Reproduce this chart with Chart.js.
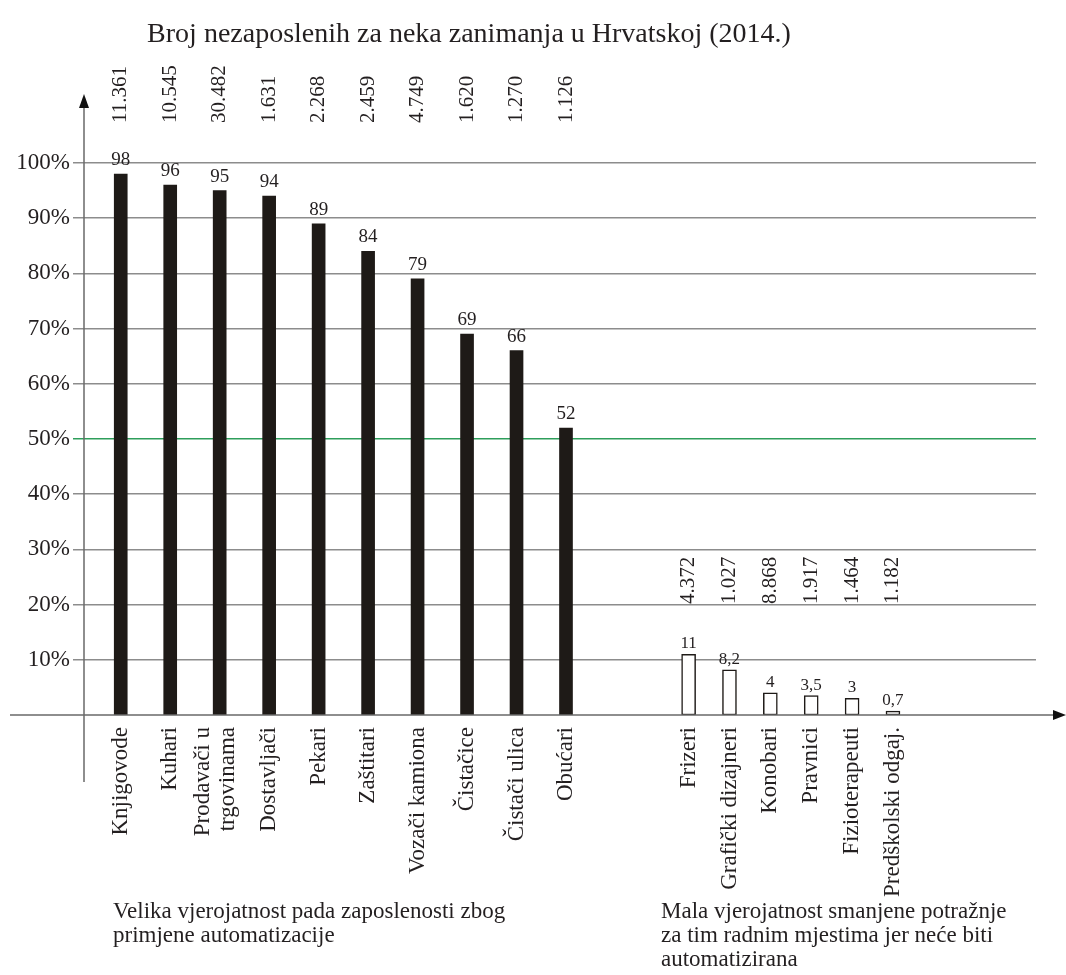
<!DOCTYPE html>
<html>
<head>
<meta charset="utf-8">
<script src="https://cdn.jsdelivr.net/npm/chart.js@4.4.1/dist/chart.umd.min.js"></script>
<style>
  html, body { margin: 0; padding: 0; background: #fff; }
  #wrap { width: 1066px; height: 975px; }
</style>
</head>
<body>
<div id="wrap"><canvas id="chart"></canvas></div>
<script>
// High probability of automation
const highJobs = ["Knjigovode", "Kuhari", ["Prodavači u", "trgovinama"], "Dostavljači", "Pekari",
    "Zaštitari", "Vozači kamiona", "Čistačice", "Čistači ulica", "Obućari"];
const highProb = [98, 96, 95, 94, 89, 84, 79, 69, 66, 52];
const highCounts = ["11.361", "10.545", "30.482", "1.631", "2.268", "2.459", "4.749", "1.620", "1.270", "1.126"];

// Low probability of automation
const lowJobs = ["Frizeri", "Grafički dizajneri", "Konobari", "Pravnici", "Fizioterapeuti", "Predškolski odgaj."];
const lowProb = [11, 8.2, 4, 3.5, 3, 0.7];
const lowCounts = ["4.372", "1.027", "8.868", "1.917", "1.464", "1.182"];

const yTicks = [10, 20, 30, 40, 50, 60, 70, 80, 90, 100];

const titleText = "Broj nezaposlenih za neka zanimanja u Hrvatskoj (2014.)";
const highNote = ["Velika vjerojatnost pada zaposlenosti zbog", "primjene automatizacije"];
const lowNote = ["Mala vjerojatnost smanjene potražnje", "za tim radnim mjestima jer neće biti", "automatizirana"];

// slots on each category axis (empty ones are just spacing)
const highSlots = 19;
const lowSlots = 23;
const lowStart = 14;

const SERIF = '"Liberation Serif", "DejaVu Serif", serif';
const INK = "#231f20";

const highLabels = highJobs.concat(Array(highSlots - highJobs.length).fill(""));
const lowLabels = Array(lowStart).fill("").concat(lowJobs, Array(lowSlots - lowStart - lowJobs.length).fill(""));
const lowData = Array(lowStart).fill(null).concat(lowProb);

const fmt = v => String(v).replace(".", ",");

function rotText(ctx, text, x, y, align) {
    ctx.save();
    ctx.translate(x, y);
    ctx.rotate(-Math.PI / 2);
    ctx.textAlign = align;
    ctx.textBaseline = "middle";
    ctx.fillText(text, 0, 0);
    ctx.restore();
}

const decor = {
    id: "decor",
    afterDraw(chart) {
        const { ctx, chartArea, scales } = chart;
        const y0 = scales.y.getPixelForValue(0);
        const ax = chartArea.left - 12;

        ctx.save();
        // axes with arrows
        ctx.strokeStyle = "#6a6a6a";
        ctx.lineWidth = 1.5;
        ctx.beginPath();
        ctx.moveTo(10, y0);
        ctx.lineTo(1056, y0);
        ctx.moveTo(ax, chartArea.top - 56);
        ctx.lineTo(ax, y0 + 67);
        ctx.stroke();
        ctx.fillStyle = "#111";
        ctx.beginPath();
        ctx.moveTo(1066, y0);
        ctx.lineTo(1053, y0 - 5);
        ctx.lineTo(1053, y0 + 5);
        ctx.closePath();
        ctx.fill();
        ctx.beginPath();
        ctx.moveTo(ax, chartArea.top - 69);
        ctx.lineTo(ax - 5, chartArea.top - 55);
        ctx.lineTo(ax + 5, chartArea.top - 55);
        ctx.closePath();
        ctx.fill();

        ctx.fillStyle = INK;

        // title
        ctx.font = "28px " + SERIF;
        ctx.textAlign = "center";
        ctx.textBaseline = "alphabetic";
        ctx.fillText(titleText, 469, 42);

        // values on top of bars
        const hi = chart.getDatasetMeta(0).data;
        const lo = chart.getDatasetMeta(1).data;
        ctx.font = "19px " + SERIF;
        hi.forEach((bar, i) => ctx.fillText(fmt(highProb[i]), bar.x, bar.y - 9));
        ctx.font = "17px " + SERIF;
        lowProb.forEach((v, i) => {
            const bar = lo[lowStart + i];
            ctx.fillText(fmt(v), bar.x, bar.y - 6);
        });

        // unemployed counts
        ctx.font = "21px " + SERIF;
        hi.forEach((bar, i) => rotText(ctx, highCounts[i], bar.x, chartArea.top - 40, "left"));
        lowCounts.forEach((c, i) => rotText(ctx, c, lo[lowStart + i].x, 604, "left"));

        // category labels
        ctx.font = "23px " + SERIF;
        const drawCat = (label, x) => {
            const lines = Array.isArray(label) ? label : [label];
            lines.forEach((t, j) => {
                const dx = (j - (lines.length - 1) / 2) * 25 - (lines.length > 1 ? 4 : 0);
                rotText(ctx, t, x + dx, y0 + 12, "right");
            });
        };
        hi.forEach((bar, i) => drawCat(highJobs[i], bar.x));
        lowJobs.forEach((t, i) => drawCat(t, lo[lowStart + i].x));

        // notes under the groups
        ctx.font = "23px " + SERIF;
        ctx.textAlign = "left";
        ctx.textBaseline = "alphabetic";
        highNote.forEach((t, i) => ctx.fillText(t, 113, 918 + i * 24));
        lowNote.forEach((t, i) => ctx.fillText(t, 661, 918 + i * 24));
        ctx.restore();
    }
};

new Chart(document.getElementById("chart"), {
    type: "bar",
    data: {
        datasets: [{
            data: highProb,
            xAxisID: "x",
            yAxisID: "y",
            backgroundColor: "#1e1a17",
            barThickness: 13,
            grouped: false
        }, {
            data: lowData,
            xAxisID: "x2",
            yAxisID: "y",
            backgroundColor: "#ffffff",
            borderColor: "#1e1a17",
            borderWidth: 1.5,
            borderSkipped: false,
            barThickness: 14,
            grouped: false
        }]
    },
    options: {
        responsive: true,
        maintainAspectRatio: false,
        animation: false,
        layout: { padding: { top: 163, bottom: 260, right: 30, left: 0 } },
        plugins: {
            legend: { display: false },
            tooltip: { enabled: false }
        },
        scales: {
            x: { type: "category", labels: highLabels, display: false, offset: true },
            x2: { type: "category", labels: lowLabels, display: false, offset: true },
            y: {
                min: 0,
                max: 100,
                afterFit: s => { s.width = 96; },
                afterBuildTicks: s => { s.ticks = yTicks.map(v => ({ value: v })); },
                border: { display: false },
                grid: {
                    color: c => (c.tick && c.tick.value === 50 ? "#2e9e5b" : "#8c8c8c"),
                    lineWidth: 1.5,
                    tickLength: 23
                },
                ticks: {
                    padding: 3,
                    color: INK,
                    font: { family: SERIF, size: 23 },
                    callback: v => v + "%"
                }
            }
        }
    },
    plugins: [decor]
});
</script>
</body>
</html>
